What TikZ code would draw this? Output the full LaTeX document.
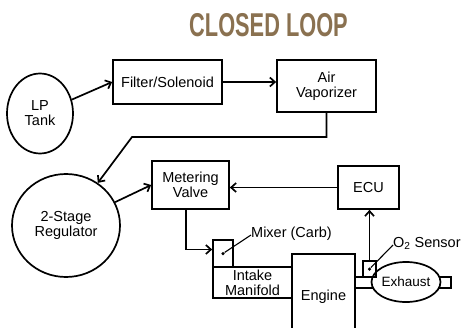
\documentclass[tikz,border=0pt]{standalone}
\usepackage{fontspec}
\setmainfont{Liberation Sans}
\usetikzlibrary{shapes.geometric,arrows.meta,calc}
\definecolor{titlebrown}{RGB}{138,113,80}
\begin{document}
\begin{tikzpicture}[x=1pt,y=-1pt,
  lw/.style={line width=1.7pt},
  box/.style={draw,lw,rectangle,inner sep=0pt,align=center,font=\fontsize{14.5}{15}\selectfont},
  oval/.style={draw,lw,ellipse,inner sep=0pt,align=center,font=\fontsize{14.5}{15}\selectfont},
  arr/.style={lw,-{Straight Barb[length=5pt,width=9pt]}},
  lead/.style={line width=1.1pt},
  dotm/.style={circle,fill,inner sep=0pt,minimum size=3.5pt},
  lbl/.style={font=\fontsize{14.5}{15}\selectfont,inner sep=0pt},
]
\useasboundingbox (0,0) rectangle (461,327);
\fill[white] (0,0) rectangle (461,327);
\node[font=\bfseries\fontsize{33}{33}\selectfont,text=titlebrown] (title) at (268.5,25) {\scalebox{0.66}[1]{CLOSED LOOP}};

\node[oval,minimum width=66pt,minimum height=80pt] (lp) at (40,113.5) {LP\\Tank};
\node[box,minimum width=109pt,minimum height=44pt] (filter) at (167.5,82) {Filter/Solenoid};
\node[box,minimum width=99pt,minimum height=52pt] (vap) at (326.5,86) {Air\\Vaporizer};
\node[oval,minimum width=108pt,minimum height=103pt] (reg) at (66,225.5) {2-Stage\\Regulator};
\node[box,minimum width=77pt,minimum height=48pt] (meter) at (190.5,185) {Metering\\Valve};
\node[box,minimum width=61pt,minimum height=43pt] (ecu) at (368.5,187.5) {ECU};
\node[box,minimum width=20pt,minimum height=27pt] (mixer) at (223,253.5) {};
\node[box,minimum width=79pt,minimum height=31pt] (intake) at (252.5,282.5) {Intake\\Manifold};
\node[box,minimum width=63pt,minimum height=86pt] (engine) at (323.5,297) {Engine};
\node[box,minimum width=96pt,minimum height=11pt] (pipe) at (403,282.5) {};
\node[oval,fill=white,minimum width=54pt,minimum height=40pt,font=\fontsize{13.5}{13.5}\selectfont] (exh) at (406,282) {Exhaust};
\node[box,minimum width=13pt,minimum height=16pt] (o2) at (369.5,269) {};

\node[dotm] (mixdot) at (mixer.center) {};
\node[dotm] (o2dot) at (o2.center) {};
\node[lbl,anchor=base west] (mixlbl) at (251,237) {Mixer (Carb)};
\node[lbl,anchor=base west] (o2lbl) at (393,247) {O\textsubscript{2} Sensor};
\draw[lead] (mixdot) -- ([yshift=2pt]mixlbl.base west);
\draw[lead] (o2dot) -- ([yshift=2pt]o2lbl.base west);

\coordinate (bend) at (132,137);
\draw[arr] (lp) -- (filter.west);
\draw[arr] (filter.east) -- (vap.west |- filter.east);
\draw[arr] (vap.south) |- (bend) -- (reg);
\draw[arr] (reg) -- (meter.west);
\draw[arr] (ecu.west) -- (ecu.west -| meter.east);
\draw[arr] ([xshift=-4.5pt]meter.south) |- ([yshift=4pt]mixer.west);
\draw[arr] (o2.north) -- (o2.north |- ecu.south);
\end{tikzpicture}
\end{document}
